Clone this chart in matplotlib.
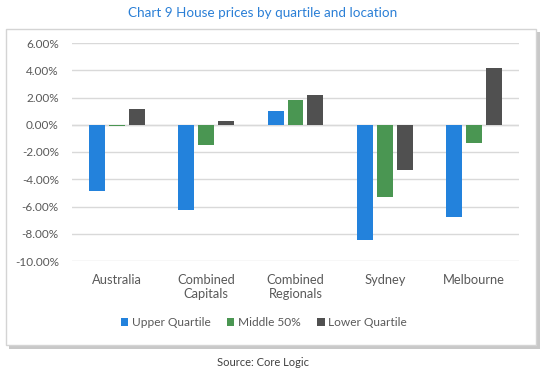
import matplotlib
matplotlib.use("Agg")
import matplotlib.pyplot as plt
import numpy as np
from matplotlib.patches import Rectangle

categories = ["Australia", "Combined\nCapitals", "Combined\nRegionals", "Sydney", "Melbourne"]
series_names = ["Upper Quartile", "Middle 50%", "Lower Quartile"]
upper = [-4.83, -6.23, 0.98, -8.43, -6.74]
middle = [-0.10, -1.52, 1.79, -5.32, -1.37]
lower = [1.12, 0.24, 2.15, -3.29, 4.14]
yticks = [6, 4, 2, 0, -2, -4, -6, -8, -10]
colors = ["#2382DC", "#4A9652", "#505050"]

plt.rcParams['font.family'] = ['Lato', 'DejaVu Sans']
W, H = 545, 372
fig = plt.figure(figsize=(W / 100, H / 100), dpi=100)
fig.patch.set_facecolor("white")

def fx(px):
    return px / W

def fy(py):
    return 1 - py / H

# shadow
fig.patches.append(Rectangle((fx(9), fy(349)), fx(531), fy(32) - fy(349),
                             transform=fig.transFigure, facecolor="#C8C8C8",
                             edgecolor="none", zorder=-3))
fig.patches.append(Rectangle((fx(6), fy(345)), fx(530), fy(29) - fy(345),
                             transform=fig.transFigure, facecolor="white",
                             edgecolor="#D4D4D4", linewidth=1, zorder=-2))

ax = fig.add_axes([fx(72), fy(261), fx(519) - fx(72), fy(43) - fy(261)])
ax.set_facecolor("none")
x = np.arange(len(categories))
step = 0.222
width = 0.178
for i, (vals, name) in enumerate(zip([upper, middle, lower], series_names)):
    ax.bar(x + (i - 1) * step, vals, width, color=colors[i], label=name, zorder=3)

ax.set_xlim(-0.5, len(categories) - 0.5)
ax.set_ylim(-10, 6)
ax.set_yticks(yticks)
ax.set_yticklabels([f"{v:.2f}%" for v in yticks])
ax.set_xticks(x)
ax.set_xticklabels(categories, linespacing=1.2)
ax.grid(axis="y", color="#D9D9D9", linewidth=1, zorder=0)
ax.axhline(0, color="#D9D9D9", linewidth=1, zorder=1)
for s in ax.spines.values():
    s.set_visible(False)
ax.tick_params(axis="both", length=0, colors="#595959")
ax.tick_params(axis="y", pad=9.5, labelsize=8.5)
ax.tick_params(axis="x", pad=9, labelsize=9.3)

leg = fig.legend(loc="center", bbox_to_anchor=(fx(264), fy(323)), ncol=3, frameon=False,
                 fontsize=8.6, handlelength=0.6, handleheight=0.6, handletextpad=0.3,
                 columnspacing=1.4)
for t in leg.get_texts():
    t.set_color("#595959")

fig.text(fx(263), fy(13), "Chart 9 House prices by quartile and location", ha="center",
         va="center", color="#2A7FD6", fontsize=9.7)
fig.text(fx(263), fy(363), "Source: Core Logic", ha="center", va="center",
         color="#404040", fontsize=8)

fig.savefig("out.png", dpi=100)
